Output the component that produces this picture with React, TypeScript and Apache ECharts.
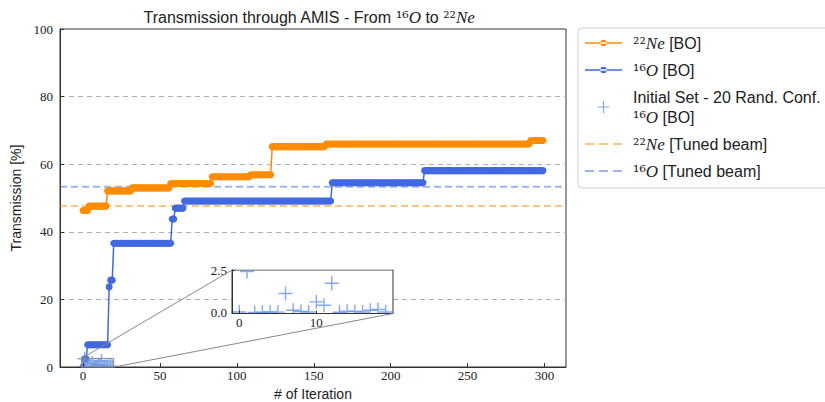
import React, { useEffect, useRef } from "react";
import * as echarts from "echarts";

// ---------------- data ----------------
const N_ITERATIONS = 300;
// best-so-far traces, given as runs: iteration where a level starts, and the level
const neStepStart = [0, 4, 16, 32, 57, 84, 109, 123, 158, 291];
const neStepValue = [46.3, 47.6, 52.1, 53.0, 54.3, 56.3, 56.9, 65.2, 66.0, 67.0];
const oStepStart = [0, 1, 3, 17, 18, 20, 58, 60, 66, 162, 222];
const oStepValue = [0.05, 2.45, 6.6, 23.7, 25.7, 36.6, 43.8, 47.0, 49.1, 54.5, 58.1];
// initial set: 20 random configurations (16O)
const initialIteration = [0, 1, 2, 3, 4, 5, 6, 7, 8, 9, 10, 11, 12, 13, 14, 15, 16, 17, 18, 19];
const initialValue = [0.05, 2.45, 0.02, 0.03, 0.05, 0.04, 1.15, 0.15, 0.08, 0.05, 0.65, 0.45, 1.75, 0.03, 0.1, 0.08, 0.05, 0.15, 0.2, 0.05];
const tunedNe = 47.6;
const tunedO = 53.3;
const xTickValues = [0, 50, 100, 150, 200, 250, 300];
const insetXTickValues = [0, 10];
const insetYTickValues = [0, 2.5];
const X_RANGE = [-14.95, 313.95];
const Y_RANGE = [0, 100];
const INSET_X = [-0.95, 19.95];
const INSET_Y = [-0.04, 2.54];

// ---------------- styles ----------------
const SANS = "'Liberation Sans', Arial, sans-serif";
const SERIF = "'Liberation Serif', 'Times New Roman', serif";
const SUPFONT = "'DejaVu Serif', serif";
const NE_COLOR = "#ff8c00";
const O_COLOR = "#4169e1";
const CROSS_COLOR = "#6495ed";
const NE_TUNED = "rgba(255,140,0,0.5)";
const O_TUNED = "rgba(65,105,225,0.5)";
const TEXT = "#222";
const CROSS_PATH = "path://M6.3,0 H7.7 V6.3 H14 V7.7 H7.7 V14 H6.3 V7.7 H0 V6.3 H6.3 Z";
const LINE_DOT_ICON = "path://M0,2.5 H37 V4 H0 Z M15.25,3.25 A3.25,3.25 0 1,0 21.75,3.25 A3.25,3.25 0 1,0 15.25,3.25 Z";
const DASH_ICON = "path://M0,0 H9 V2 H0 Z M14,0 H23 V2 H14 Z M28,0 H37 V2 H28 Z";

function stepSeries(starts: number[], values: number[], n: number) {
  const out: number[][] = [];
  let k = 0;
  for (let i = 0; i < n; i++) {
    while (k + 1 < starts.length && starts[k + 1] <= i) k++;
    out.push([i, values[k]]);
  }
  return out;
}

const rich = (size: number, lh?: number) => ({
  s: { fontFamily: SUPFONT, fontSize: size, color: TEXT, lineHeight: lh },
  it: { fontFamily: SERIF, fontStyle: "italic", fontSize: size + 1, color: TEXT, lineHeight: lh },
});

const legendLabels: Record<string, string> = {
  ne: "{s|²²}{it|Ne} [BO]",
  o: "{s|¹⁶}{it|O} [BO]",
  init: "Initial Set - 20 Rand. Conf.\n{s|¹⁶}{it|O} [BO]",
  tunedNe: "{s|²²}{it|Ne} [Tuned beam]",
  tunedO: "{s|¹⁶}{it|O} [Tuned beam]",
};

export default function App() {
  const ref = useRef<HTMLDivElement>(null);
  useEffect(() => {
    if (!ref.current) return;
    const chart = echarts.init(ref.current, undefined, { renderer: "svg" });
    const neData = stepSeries(neStepStart, neStepValue, N_ITERATIONS);
    const oData = stepSeries(oStepStart, oStepValue, N_ITERATIONS);
    const initData = initialIteration.map((x, i) => [x, initialValue[i]]);

    const axisLabelStyle = { fontFamily: SERIF, fontSize: 13, color: TEXT };
    const option: any = {
      animation: false,
      backgroundColor: "#fff",
      title: {
        text: "Transmission through AMIS - From {s|¹⁶}{it|O} to {s|²²}{it|Ne}",
        left: 304,
        top: 4,
        textAlign: "center",
        textStyle: { fontFamily: SANS, fontSize: 16, fontWeight: "normal", color: TEXT, rich: rich(16) },
      },
      legend: {
        orient: "vertical",
        left: 578,
        top: 28,
        padding: [5, 14, 7, 7],
        itemGap: 7,
        itemWidth: 37,
        itemHeight: 12,
        selectedMode: false,
        backgroundColor: "#fff",
        borderColor: "#d0d0d0",
        borderWidth: 1,
        borderRadius: 4,
        itemStyle: { borderWidth: 0 },
        data: [
          { name: "ne", icon: LINE_DOT_ICON },
          { name: "o", icon: LINE_DOT_ICON },
          { name: "init", icon: CROSS_PATH },
          { name: "tunedNe", icon: DASH_ICON },
          { name: "tunedO", icon: DASH_ICON },
        ],
        formatter: (name: string) => legendLabels[name],
        textStyle: { fontFamily: SANS, fontSize: 16, color: TEXT, lineHeight: 20, padding: [0, 0, 0, 6], rich: rich(16, 20) },
      },
      grid: [
        { left: 60, top: 29, width: 506, height: 338, show: true, borderColor: "#333", borderWidth: 1, backgroundColor: "transparent", outerBoundsMode: "none", containLabel: false },
        { left: 232, top: 270, width: 161, height: 43.5, show: false, outerBoundsMode: "none", containLabel: false },
      ],
      xAxis: [
        {
          gridIndex: 0, type: "value", min: X_RANGE[0], max: X_RANGE[1], z: 4,
          axisLine: { show: true, onZero: false, lineStyle: { color: "#333" } },
          axisTick: { show: true, inside: true, length: 4, customValues: xTickValues, lineStyle: { color: "#333" } },
          axisLabel: { ...axisLabelStyle, margin: 2, customValues: xTickValues },
          splitLine: { show: false },
          name: "# of Iteration", nameLocation: "middle", nameGap: 18,
          nameTextStyle: { fontFamily: SANS, fontSize: 14, color: TEXT },
        },
        {
          gridIndex: 1, type: "value", min: INSET_X[0], max: INSET_X[1], z: 6,
          axisLine: { show: true, onZero: false, lineStyle: { color: "#333" } },
          axisTick: { show: true, inside: true, length: 3, customValues: insetXTickValues, lineStyle: { color: "#333" } },
          axisLabel: { ...axisLabelStyle, margin: 2, customValues: insetXTickValues },
          splitLine: { show: false },
        },
      ],
      yAxis: [
        {
          gridIndex: 0, type: "value", min: Y_RANGE[0], max: Y_RANGE[1], interval: 20,
          axisLine: { show: true, onZero: false, lineStyle: { color: "#333" } },
          axisTick: { show: true, inside: true, length: 4, lineStyle: { color: "#333" } },
          axisLabel: { ...axisLabelStyle, margin: 7 },
          splitLine: { show: true, showMinLine: false, showMaxLine: false, lineStyle: { type: [5, 4], color: "#b0b0b0", width: 1 } },
          name: "Transmission [%]", nameLocation: "middle", nameGap: 30,
          nameTextStyle: { fontFamily: SANS, fontSize: 14, color: TEXT },
        },
        {
          gridIndex: 1, type: "value", min: INSET_Y[0], max: INSET_Y[1], z: 6,
          axisLine: { show: true, onZero: false, lineStyle: { color: "#333" } },
          axisTick: { show: true, inside: true, length: 3, customValues: insetYTickValues, lineStyle: { color: "#333" } },
          axisLabel: { ...axisLabelStyle, margin: 5, customValues: insetYTickValues, formatter: (v: number) => v.toFixed(1) },
          splitLine: { show: false },
        },
      ],
      series: [
        {
          name: "ne", type: "line", xAxisIndex: 0, yAxisIndex: 0, data: neData, z: 2,
          symbol: "circle", symbolSize: 7, showSymbol: true,
          color: NE_COLOR, itemStyle: { color: NE_COLOR }, lineStyle: { color: NE_COLOR, width: 1.5 },
        },
        {
          name: "o", type: "line", xAxisIndex: 0, yAxisIndex: 0, data: oData, z: 2,
          symbol: "circle", symbolSize: 7, showSymbol: true,
          color: O_COLOR, itemStyle: { color: O_COLOR }, lineStyle: { color: O_COLOR, width: 1.5 },
        },
        {
          name: "init", type: "scatter", xAxisIndex: 0, yAxisIndex: 0, data: initData, z: 2,
          symbol: CROSS_PATH, symbolSize: 14, color: CROSS_COLOR, itemStyle: { color: CROSS_COLOR },
        },
        {
          name: "tunedNe", type: "line", xAxisIndex: 0, yAxisIndex: 0, z: 2,
          data: [[X_RANGE[0], tunedNe], [X_RANGE[1], tunedNe]], symbol: "none",
          color: NE_TUNED, itemStyle: { color: NE_TUNED }, lineStyle: { color: NE_TUNED, width: 2, type: [7, 4] },
        },
        {
          name: "tunedO", type: "line", xAxisIndex: 0, yAxisIndex: 0, z: 2,
          data: [[X_RANGE[0], tunedO], [X_RANGE[1], tunedO]], symbol: "none",
          color: O_TUNED, itemStyle: { color: O_TUNED }, lineStyle: { color: O_TUNED, width: 2, type: [7, 4] },
        },
        {
          name: "initInset", type: "scatter", xAxisIndex: 1, yAxisIndex: 1, data: initData, z: 4,
          symbol: CROSS_PATH, symbolSize: 14, color: CROSS_COLOR, itemStyle: { color: CROSS_COLOR },
        },
      ],
    };
    chart.setOption(option);

    // inset decorations positioned through the axes' own scales
    const m0 = chart.convertToPixel({ gridIndex: 0 }, [X_RANGE[0], Y_RANGE[0]]) as number[];
    const m1 = chart.convertToPixel({ gridIndex: 0 }, [X_RANGE[1], Y_RANGE[0]]) as number[];
    const rTL = chart.convertToPixel({ gridIndex: 0 }, [INSET_X[0], INSET_Y[1]]) as number[];
    const rBR = chart.convertToPixel({ gridIndex: 0 }, [INSET_X[1], INSET_Y[0]]) as number[];
    const iTL = chart.convertToPixel({ gridIndex: 1 }, [INSET_X[0], INSET_Y[1]]) as number[];
    const iBR = chart.convertToPixel({ gridIndex: 1 }, [INSET_X[1], INSET_Y[0]]) as number[];
    const gray = "#888";
    chart.setOption({
      graphic: [
        { type: "rect", z: 1, shape: { x: iTL[0], y: iTL[1], width: iBR[0] - iTL[0], height: iBR[1] - iTL[1] }, style: { fill: "#fff", stroke: "#333", lineWidth: 1 } },
        { type: "rect", z: 3, shape: { x: m0[0] + 1, y: m0[1] + 0.5, width: m1[0] - m0[0] - 1, height: 8 }, style: { fill: "#fff" } },
        { type: "rect", z: 5, shape: { x: iTL[0] + 0.5, y: iTL[1] - 8, width: iBR[0] - iTL[0] - 1, height: 7.5 }, style: { fill: "#fff" } },
        { type: "rect", z: 5, shape: { x: iTL[0] + 0.5, y: iBR[1] + 0.5, width: iBR[0] - iTL[0] - 1, height: 8 }, style: { fill: "#fff" } },
        { type: "rect", z: 7, shape: { x: rTL[0], y: rTL[1], width: rBR[0] - rTL[0], height: rBR[1] - rTL[1] }, style: { fill: "rgba(128,128,128,0.12)", stroke: gray, lineWidth: 1 } },
        { type: "line", z: 7, shape: { x1: rTL[0], y1: rTL[1], x2: iTL[0], y2: iTL[1] }, style: { stroke: gray, lineWidth: 1 } },
        { type: "line", z: 7, shape: { x1: rBR[0], y1: rBR[1], x2: iBR[0], y2: iBR[1] }, style: { stroke: gray, lineWidth: 1 } },
      ],
    });
    return () => chart.dispose();
  }, []);
  return <div ref={ref} style={{ position: "fixed", left: 0, top: 0, width: 825, height: 402 }} />;
}
